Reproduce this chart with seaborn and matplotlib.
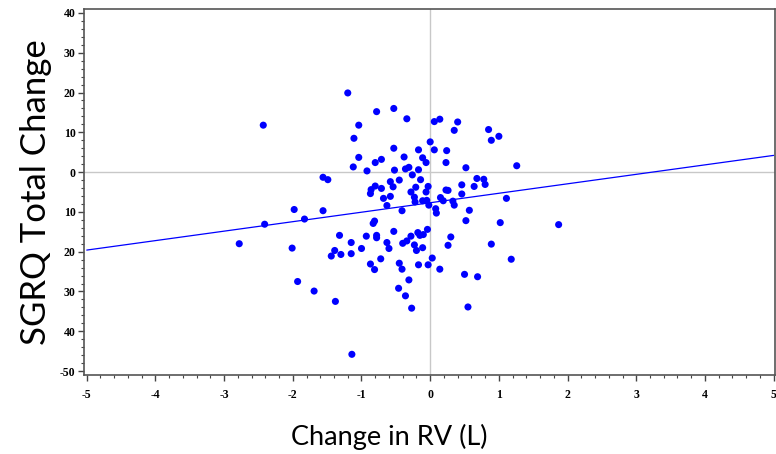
import matplotlib
matplotlib.use("Agg")
import matplotlib.pyplot as plt
import seaborn as sns
import pandas as pd
from matplotlib.ticker import MultipleLocator

# ---- data ----
rv_change = [
    -1.20, -0.78, -0.53, -0.34, -1.04, -1.11, 0.06, 0.14, 0.40, 0.35,
    0.85, 1.00, 0.89, 0.00, -0.53, -0.17, 0.06, 0.24, -1.04, -0.80,
    -0.71, -0.38, -0.11, -0.06, 0.23, -1.12, -0.92, -0.52, -0.36, -0.31,
    -0.17, 0.52, 1.26, -2.43,
    -1.56, -1.49, -0.26, -0.45, -0.58, -0.54, -0.14, -0.80, -0.86, -0.87,
    -0.71, -0.28, -0.21, -0.03, -0.06, 0.23, 0.26, 0.46, 0.68, 0.78,
    0.80, 0.64, 0.46, -0.68, -0.58, -0.23, -0.22, -0.11, -0.05, 0.15,
    0.19, 0.33, 0.35, -0.02, -0.63, 1.11, -1.56, -1.83, -0.41, 0.08,
    0.09, 0.57, 0.52, 1.02, 1.87, -0.81, -0.83, -1.98, -2.41, -2.78,
    -2.01, -1.93,
    -1.32, -0.93, -0.78, -0.78, -0.53, -0.28, -0.18, -0.15, -0.10, -0.04,
    0.30, -1.15, -0.63, -0.60, -0.40, -0.34, -0.23, -0.20, -0.11, 0.26,
    -1.39, -1.30, -1.44, -1.15, -1.00, -0.72, -0.87, -0.81, -0.45, -0.41,
    -0.17, -0.03, 0.03, 0.14, 0.89, 1.18, 0.50, 0.69, -0.31, -0.46,
    -0.36, -0.27, -1.69, -1.38, 0.55, -1.14,
]
sgrq_change = [
    19.9, 15.2, 16.0, 13.4, 11.8, 8.5, 12.7, 13.3, 12.6, 10.5,
    10.7, 9.0, 8.0, 7.6, 6.0, 5.6, 5.6, 5.4, 3.7, 2.4,
    3.2, 3.8, 3.6, 2.4, 2.4, 1.3, 0.3, 0.5, 0.8, 1.2,
    0.6, 1.1, 1.6, 11.8,
    -1.3, -1.9, -0.7, -2.0, -2.4, -3.7, -1.9, -3.5, -4.4, -5.4,
    -4.1, -5.0, -3.8, -3.6, -5.0, -4.5, -4.6, -3.2, -1.6, -1.8,
    -3.1, -3.6, -5.5, -6.6, -6.1, -6.3, -7.5, -7.2, -7.1, -6.4,
    -7.2, -7.3, -8.3, -8.3, -8.4, -6.6, -9.7, -11.8, -9.7, -9.2,
    -10.3, -9.6, -12.2, -12.7, -13.2, -12.3, -12.9, -9.4, -13.1, -18.0,
    -19.1, -27.5,
    -15.9, -16.1, -15.9, -16.5, -14.9, -16.1, -15.2, -15.9, -15.7, -14.4,
    -16.3, -17.7, -17.7, -19.2, -17.9, -17.3, -18.3, -19.7, -19.0, -18.4,
    -19.7, -20.7, -21.1, -20.5, -19.2, -21.8, -23.1, -24.5, -22.9, -24.4,
    -23.3, -23.3, -21.6, -24.4, -18.1, -21.9, -25.7, -26.3, -27.1, -29.2,
    -31.1, -34.2, -29.9, -32.5, -33.9, -45.8,
]
fit_x = [-5.0, 5.0]
fit_y = [-19.6, 4.2]

y_tick_values = [-50, -40, -30, -20, -10, 0, 10, 20, 30, 40]
y_tick_labels = ["-50", "40", "30", "20", "10", "0", "10", "20", "30", "40"]
x_tick_values = [-5, -4, -3, -2, -1, 0, 1, 2, 3, 4, 5]
x_tick_labels = ["-5", "-4", "-3", "-2", "-1", "0", "1", "2", "3", "4", "5"]

df = pd.DataFrame({"rv": rv_change, "sgrq": sgrq_change})
fit = pd.DataFrame({"x": fit_x, "y": fit_y})

sns.set_theme(style="white")
plt.rcParams["font.family"] = ["DejaVu Sans"]

fig = plt.figure(figsize=(7.76, 4.54), dpi=100)
ax = fig.add_axes([84 / 776, 1 - 375 / 454, (775 - 84) / 776, (375 - 9) / 454])

ax.axhline(0, color="#c8c8c8", lw=1.0, zorder=1)
ax.axvline(0, color="#c8c8c8", lw=1.0, zorder=1)

sns.lineplot(data=fit, x="x", y="y", ax=ax, color="#0000ff", lw=0.9, zorder=2)
sns.scatterplot(data=df, x="rv", y="sgrq", ax=ax, color="#0000ff", s=26,
                edgecolor="none", linewidth=0, zorder=3)

ax.set_xlim(-5.04, 5.02)
ax.set_ylim(-51.0, 41.0)

tick_font = dict(fontfamily="Liberation Serif", fontweight="bold",
                 fontsize=8.5, color="black")
ax.set_xticks(x_tick_values, x_tick_labels, **tick_font)
ax.set_yticks(y_tick_values, y_tick_labels, **tick_font)
ax.xaxis.set_minor_locator(MultipleLocator(0.2))
ax.yaxis.set_minor_locator(MultipleLocator(2))

ax.tick_params(which="major", direction="out", length=4, width=1.0,
               color="#444444", left=True, bottom=True)
ax.tick_params(axis="x", which="major", pad=6)
ax.tick_params(axis="y", which="major", pad=2)
ax.tick_params(which="minor", direction="out", length=2, width=0.8,
               color="#444444", left=True, bottom=True)

for side in ["left", "bottom", "top", "right"]:
    ax.spines[side].set_visible(True)
    ax.spines[side].set_color("#555555")
    ax.spines[side].set_linewidth(1.2)

ax.set_xlabel("")
ax.set_ylabel("")

fig.text(36 / 776, 1 - 192 / 454, "SGRQ Total Change", rotation=90,
         ha="center", va="center", fontsize=25, family="Lato", color="black")
fig.text(389 / 776, 1 - 437 / 454, "Change in RV (L)", ha="center",
         va="center", fontsize=19.5, family="Lato", color="black")

fig.savefig("out.png", dpi=100)
